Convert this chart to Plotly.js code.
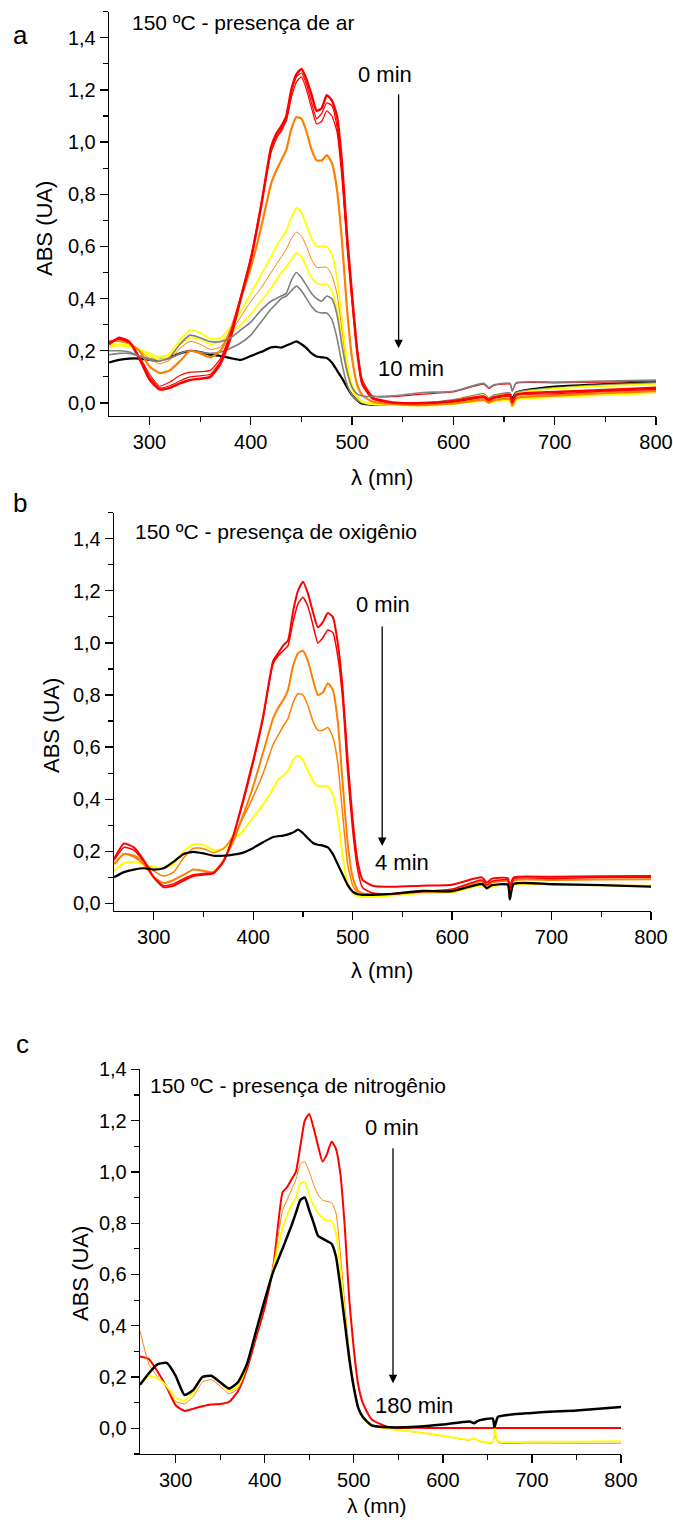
<!DOCTYPE html>
<html>
<head>
<meta charset="utf-8">
<script src="https://cdn.plot.ly/plotly-3.0.1.min.js"></script>
<style>html,body{margin:0;padding:0;background:#fff;}#chart{width:673px;height:1523px;}</style>
</head>
<body>
<div id="chart"></div>
<script>
// Wavelength grid (nm)
const W = [260,270,280,290,300,310,320,330,340,350,360,370,380,390,400,410,420,425,430,435,440,445,450,455,460,465,470,475,480,485,490,495,500,505,510,520,540,570,600,630,635,640,656,658,662,700,750,800];

// Tick labels
const xTicks = [300,400,500,600,700,800];
const yTicks = [0,0.2,0.4,0.6,0.8,1.0,1.2,1.4];

// ---- Panel a: 150 ºC - presença de ar ----
const a_red0   = [0.225,0.25,0.235,0.17,0.09,0.052,0.058,0.075,0.088,0.093,0.10,0.15,0.25,0.40,0.55,0.75,0.98,1.03,1.06,1.10,1.20,1.26,1.28,1.24,1.18,1.12,1.13,1.18,1.16,1.10,0.92,0.64,0.41,0.20,0.075,0.02,0.002,0.0,0.008,0.025,0.012,0.022,0.03,0.005,0.032,0.042,0.05,0.058];
const a_red1   = [0.235,0.245,0.23,0.18,0.11,0.065,0.08,0.105,0.118,0.12,0.125,0.17,0.27,0.41,0.56,0.76,0.97,1.02,1.04,1.09,1.19,1.25,1.265,1.22,1.15,1.09,1.11,1.15,1.14,1.06,0.88,0.62,0.40,0.21,0.09,0.028,0.024,0.034,0.042,0.072,0.055,0.067,0.072,0.047,0.075,0.077,0.08,0.084];
const a_red2   = [0.23,0.248,0.232,0.175,0.10,0.058,0.066,0.085,0.10,0.104,0.11,0.16,0.26,0.40,0.55,0.75,0.96,1.01,1.05,1.08,1.17,1.23,1.25,1.20,1.13,1.07,1.08,1.12,1.10,1.04,0.86,0.60,0.38,0.19,0.07,0.015,0.0,-0.003,0.005,0.02,0.008,0.018,0.025,0.0,0.028,0.035,0.045,0.052];
const a_orange1= [0.235,0.24,0.23,0.20,0.14,0.115,0.125,0.16,0.20,0.19,0.175,0.20,0.28,0.40,0.52,0.67,0.84,0.89,0.93,0.97,1.05,1.095,1.09,1.04,0.97,0.93,0.93,0.95,0.92,0.82,0.62,0.36,0.17,0.07,0.03,0.005,-0.005,-0.008,-0.002,0.012,0.002,0.01,0.015,-0.01,0.018,0.028,0.038,0.045];
const a_yellow1= [0.22,0.225,0.22,0.205,0.19,0.175,0.19,0.24,0.28,0.27,0.245,0.25,0.29,0.35,0.42,0.49,0.56,0.60,0.63,0.66,0.71,0.748,0.73,0.68,0.63,0.60,0.60,0.60,0.57,0.48,0.32,0.16,0.07,0.025,0.005,-0.005,-0.008,-0.01,-0.005,0.008,-0.002,0.005,0.01,-0.015,0.012,0.022,0.03,0.038];
const a_orange2= [0.235,0.235,0.225,0.20,0.17,0.15,0.165,0.21,0.236,0.225,0.205,0.215,0.27,0.33,0.39,0.44,0.50,0.53,0.56,0.59,0.63,0.655,0.64,0.60,0.55,0.52,0.52,0.52,0.49,0.42,0.28,0.14,0.06,0.02,0.005,-0.005,-0.007,-0.006,0.0,0.015,0.005,0.012,0.018,-0.005,0.02,0.032,0.043,0.05];
const a_yellow2= [0.215,0.22,0.215,0.20,0.18,0.165,0.18,0.225,0.25,0.245,0.225,0.235,0.27,0.30,0.34,0.39,0.44,0.47,0.50,0.52,0.55,0.575,0.56,0.52,0.48,0.46,0.455,0.455,0.43,0.36,0.24,0.12,0.05,0.02,0.005,-0.003,-0.005,-0.002,0.008,0.03,0.015,0.025,0.032,0.0,0.035,0.055,0.065,0.072];
const a_grey1  = [0.20,0.20,0.195,0.18,0.165,0.16,0.175,0.225,0.26,0.25,0.235,0.235,0.25,0.28,0.31,0.355,0.39,0.40,0.41,0.42,0.47,0.50,0.48,0.45,0.42,0.40,0.39,0.41,0.40,0.34,0.22,0.12,0.06,0.035,0.027,0.025,0.027,0.04,0.045,0.075,0.058,0.07,0.075,0.045,0.078,0.08,0.084,0.088];
const a_grey2  = [0.185,0.19,0.19,0.18,0.17,0.165,0.17,0.19,0.20,0.195,0.19,0.195,0.21,0.23,0.26,0.31,0.36,0.38,0.40,0.41,0.43,0.448,0.43,0.40,0.37,0.35,0.345,0.345,0.32,0.25,0.15,0.07,0.03,0.01,0.0,-0.005,-0.005,0.0,0.012,0.035,0.02,0.03,0.038,0.0,0.04,0.058,0.07,0.077];
const a_black10= [0.155,0.165,0.17,0.17,0.165,0.165,0.175,0.19,0.20,0.195,0.185,0.18,0.172,0.165,0.18,0.195,0.213,0.215,0.212,0.22,0.228,0.236,0.225,0.21,0.19,0.178,0.175,0.172,0.155,0.125,0.095,0.06,0.03,0.01,-0.003,-0.007,-0.007,-0.005,0.003,0.025,0.015,0.025,0.035,0.015,0.04,0.063,0.072,0.08];

// ---- Panel b: 150 ºC - presença de oxigênio ----
const b_red0   = [0.17,0.23,0.215,0.165,0.10,0.062,0.068,0.088,0.105,0.11,0.115,0.16,0.26,0.40,0.55,0.72,0.93,0.96,0.99,1.01,1.12,1.20,1.235,1.19,1.12,1.06,1.08,1.115,1.10,1.00,0.82,0.55,0.32,0.16,0.09,0.068,0.064,0.068,0.072,0.10,0.08,0.095,0.097,0.065,0.10,0.102,0.104,0.105];
const b_red1   = [0.165,0.215,0.205,0.16,0.10,0.068,0.075,0.095,0.11,0.115,0.118,0.16,0.26,0.39,0.54,0.71,0.92,0.95,0.97,0.99,1.08,1.15,1.175,1.14,1.07,1.00,1.02,1.05,1.04,0.95,0.78,0.50,0.28,0.13,0.06,0.04,0.037,0.045,0.055,0.09,0.07,0.085,0.09,0.05,0.094,0.096,0.099,0.10];
const b_orange1= [0.15,0.19,0.18,0.15,0.10,0.078,0.09,0.11,0.13,0.125,0.12,0.165,0.24,0.34,0.45,0.58,0.71,0.75,0.78,0.82,0.91,0.96,0.97,0.93,0.86,0.80,0.81,0.845,0.82,0.70,0.46,0.23,0.10,0.05,0.038,0.035,0.035,0.045,0.05,0.085,0.068,0.08,0.085,0.045,0.088,0.09,0.092,0.093];
const b_orange2= [0.15,0.19,0.185,0.16,0.125,0.105,0.12,0.175,0.212,0.21,0.195,0.21,0.26,0.33,0.41,0.50,0.61,0.645,0.68,0.71,0.77,0.805,0.80,0.76,0.70,0.665,0.665,0.675,0.64,0.54,0.34,0.15,0.07,0.04,0.033,0.032,0.035,0.045,0.045,0.072,0.058,0.068,0.072,0.03,0.073,0.072,0.07,0.068];
const b_yellow = [0.125,0.155,0.16,0.15,0.14,0.135,0.15,0.20,0.228,0.225,0.205,0.21,0.245,0.28,0.33,0.38,0.44,0.475,0.49,0.51,0.55,0.567,0.55,0.51,0.47,0.45,0.45,0.45,0.42,0.33,0.18,0.08,0.04,0.028,0.025,0.025,0.03,0.04,0.042,0.07,0.055,0.065,0.07,0.025,0.072,0.072,0.07,0.068];
const b_black4 = [0.10,0.12,0.13,0.135,0.13,0.135,0.16,0.19,0.198,0.192,0.183,0.183,0.187,0.195,0.213,0.235,0.255,0.258,0.26,0.265,0.272,0.283,0.27,0.25,0.232,0.225,0.222,0.215,0.19,0.15,0.11,0.07,0.045,0.035,0.033,0.033,0.037,0.048,0.047,0.075,0.058,0.07,0.072,0.015,0.075,0.074,0.07,0.064];

// ---- Panel c: 150 ºC - presença de nitrogênio ----
const c_red0   = [0.28,0.27,0.22,0.16,0.09,0.068,0.077,0.086,0.093,0.095,0.103,0.145,0.23,0.35,0.47,0.64,0.92,0.94,0.97,1.00,1.10,1.20,1.226,1.17,1.10,1.04,1.07,1.118,1.09,0.99,0.78,0.50,0.31,0.17,0.10,0.035,0.004,0.002,0.001,0.001,0.001,0.001,0.001,0.001,0.001,0.001,0.001,0.001];
const c_orange = [0.38,0.25,0.20,0.16,0.105,0.095,0.125,0.18,0.19,0.165,0.135,0.155,0.24,0.36,0.49,0.64,0.85,0.89,0.93,0.97,1.03,1.04,1.00,0.95,0.91,0.89,0.885,0.88,0.84,0.68,0.48,0.30,0.17,0.085,0.045,0.012,-0.002,-0.015,-0.03,-0.046,-0.04,-0.05,-0.057,-0.02,-0.055,-0.057,-0.058,-0.058];
const c_yellow = [0.17,0.205,0.195,0.165,0.12,0.108,0.14,0.20,0.205,0.18,0.145,0.165,0.245,0.37,0.50,0.63,0.78,0.83,0.87,0.90,0.955,0.96,0.91,0.87,0.84,0.82,0.81,0.81,0.76,0.62,0.44,0.28,0.16,0.08,0.04,0.01,-0.003,-0.014,-0.028,-0.044,-0.038,-0.048,-0.054,0.0,-0.05,-0.052,-0.052,-0.05];
const c_black180=[0.17,0.215,0.25,0.255,0.205,0.13,0.15,0.20,0.205,0.18,0.155,0.18,0.25,0.375,0.50,0.615,0.70,0.745,0.79,0.84,0.89,0.90,0.85,0.80,0.75,0.74,0.73,0.72,0.67,0.55,0.41,0.27,0.16,0.08,0.045,0.012,0.004,0.006,0.015,0.027,0.02,0.03,0.038,0.005,0.045,0.06,0.07,0.083];

const RED = '#ff0000', ORANGE = '#ff8000', YELLOW = '#ffff00', GREY = '#808080', BLACK = '#000000';

function tr(y, color, width, xa, ya) {
  return {x: W, y: y, type: 'scatter', mode: 'lines',
    line: {color: color, width: width, shape: 'spline', smoothing: 0.5},
    xaxis: xa, yaxis: ya, hoverinfo: 'skip', showlegend: false};
}

const data = [
  tr(a_black10, BLACK, 2.2, 'x', 'y'),
  tr(a_grey2, GREY, 1.6, 'x', 'y'),
  tr(a_yellow2, YELLOW, 1.8, 'x', 'y'),
  tr(a_orange2, ORANGE, 1.0, 'x', 'y'),
  tr(a_yellow1, YELLOW, 1.8, 'x', 'y'),
  tr(a_orange1, ORANGE, 2.2, 'x', 'y'),
  tr(a_red2, RED, 1.2, 'x', 'y'),
  tr(a_red1, RED, 1.2, 'x', 'y'),
  tr(a_red0, RED, 2.5, 'x', 'y'),
  tr(a_grey1, GREY, 1.6, 'x', 'y'),

  tr(b_yellow, YELLOW, 2.0, 'x2', 'y2'),
  tr(b_orange2, ORANGE, 1.5, 'x2', 'y2'),
  tr(b_orange1, ORANGE, 2.0, 'x2', 'y2'),
  tr(b_red1, RED, 1.5, 'x2', 'y2'),
  tr(b_red0, RED, 2.0, 'x2', 'y2'),
  tr(b_black4, BLACK, 2.2, 'x2', 'y2'),

  tr(c_red0, RED, 2.0, 'x3', 'y3'),
  tr(c_orange, ORANGE, 1.0, 'x3', 'y3'),
  tr(c_yellow, YELLOW, 1.8, 'x3', 'y3'),
  tr(c_black180, BLACK, 2.5, 'x3', 'y3')
];

const FW = 673, FH = 1523;
const px = v => v / FW;
const py = v => 1 - v / FH;

function xax(d0, d1, anchor) {
  return {domain: [px(d0), px(d1)], anchor: anchor, range: [260, 800],
    tickvals: xTicks, ticks: 'outside', ticklen: 8, tickwidth: 1.3, tickcolor: '#000',
    showline: true, linecolor: '#000', linewidth: 1.3, showgrid: false, zeroline: false,
    tickfont: {size: 20},
    minor: {dtick: 50, tick0: 0, ticks: 'outside', ticklen: 5, tickwidth: 1.2, tickcolor: '#000', showgrid: false}};
}
function yax(d0, d1, anchor, r) {
  return {domain: [py(d1), py(d0)], anchor: anchor, range: r,
    tickvals: yTicks, tickformat: '.1f', ticks: 'outside', ticklen: 8, tickwidth: 1.3, tickcolor: '#000',
    showline: true, linecolor: '#000', linewidth: 1.3, showgrid: false, zeroline: false,
    tickfont: {size: 20},
    minor: {dtick: 0.1, tick0: 0, ticks: 'outside', ticklen: 5, tickwidth: 1.2, tickcolor: '#000', showgrid: false}};
}

function txt(t, x, y, size, opts) {
  return Object.assign({text: t, x: px(x), y: py(y), xref: 'paper', yref: 'paper',
    showarrow: false, xanchor: 'center', yanchor: 'middle', font: {size: size, color: '#000'}}, opts || {});
}
function arrow(x, yTop, yBot) {
  return {text: '', x: px(x), y: py(yBot), xref: 'paper', yref: 'paper',
    showarrow: true, ax: 0, ay: -(yBot - yTop), axref: 'pixel', ayref: 'pixel',
    arrowhead: 2, arrowsize: 1.3, arrowwidth: 1.3, arrowcolor: '#000', standoff: 0, startstandoff: 0};
}

const annotations = [
  // panel a
  txt('a', 20, 35, 26),
  txt('150 ºC - presença de ar', 130, 22.5, 21, {xanchor: 'left'}),
  txt('0 min', 384.5, 74.5, 22),
  arrow(398.6, 92.7, 348.3),
  txt('10 min', 410.8, 368.5, 22),
  txt('ABS (UA)', 45, 229, 22, {textangle: -90}),
  txt('λ (mn)', 382, 477, 22),
  // panel b
  txt('b', 20, 503, 26),
  txt('150 ºC - presença de oxigênio', 133, 531.5, 21, {xanchor: 'left'}),
  txt('0 min', 383, 605, 22),
  arrow(382.2, 625, 846),
  txt('4 min', 401.7, 862.5, 22),
  txt('ABS (UA)', 51, 725, 22, {textangle: -90}),
  txt('λ (mn)', 382, 970, 22),
  // panel c
  txt('c', 23, 1044, 26),
  txt('150 ºC - presença de nitrogênio', 148, 1085, 21, {xanchor: 'left'}),
  txt('0 min', 391.5, 1127.5, 22),
  arrow(393, 1146.7, 1383.3),
  txt('180 min', 413.7, 1405.7, 22),
  txt('ABS (UA)', 80, 1274, 22, {textangle: -90}),
  txt('λ (mn)', 377, 1505, 21)
];

const layout = {
  width: FW, height: FH,
  margin: {l: 0, r: 0, t: 0, b: 0},
  paper_bgcolor: '#fff', plot_bgcolor: '#fff',
  separators: ',.',
  font: {family: 'Liberation Sans, Arial, Helvetica, sans-serif', size: 19, color: '#000'},
  showlegend: false,
  xaxis:  xax(109, 656, 'y'),
  yaxis:  yax(11.7, 416, 'x', [-0.05, 1.5]),
  xaxis2: xax(114, 651, 'y2'),
  yaxis2: yax(512.7, 910.7, 'x2', [-0.028, 1.5]),
  xaxis3: xax(140, 621, 'y3'),
  yaxis3: yax(1069.3, 1454, 'x3', [-0.1, 1.4]),
  annotations: annotations
};

Plotly.newPlot('chart', data, layout, {displayModeBar: false, staticPlot: true});
</script>
</body>
</html>
